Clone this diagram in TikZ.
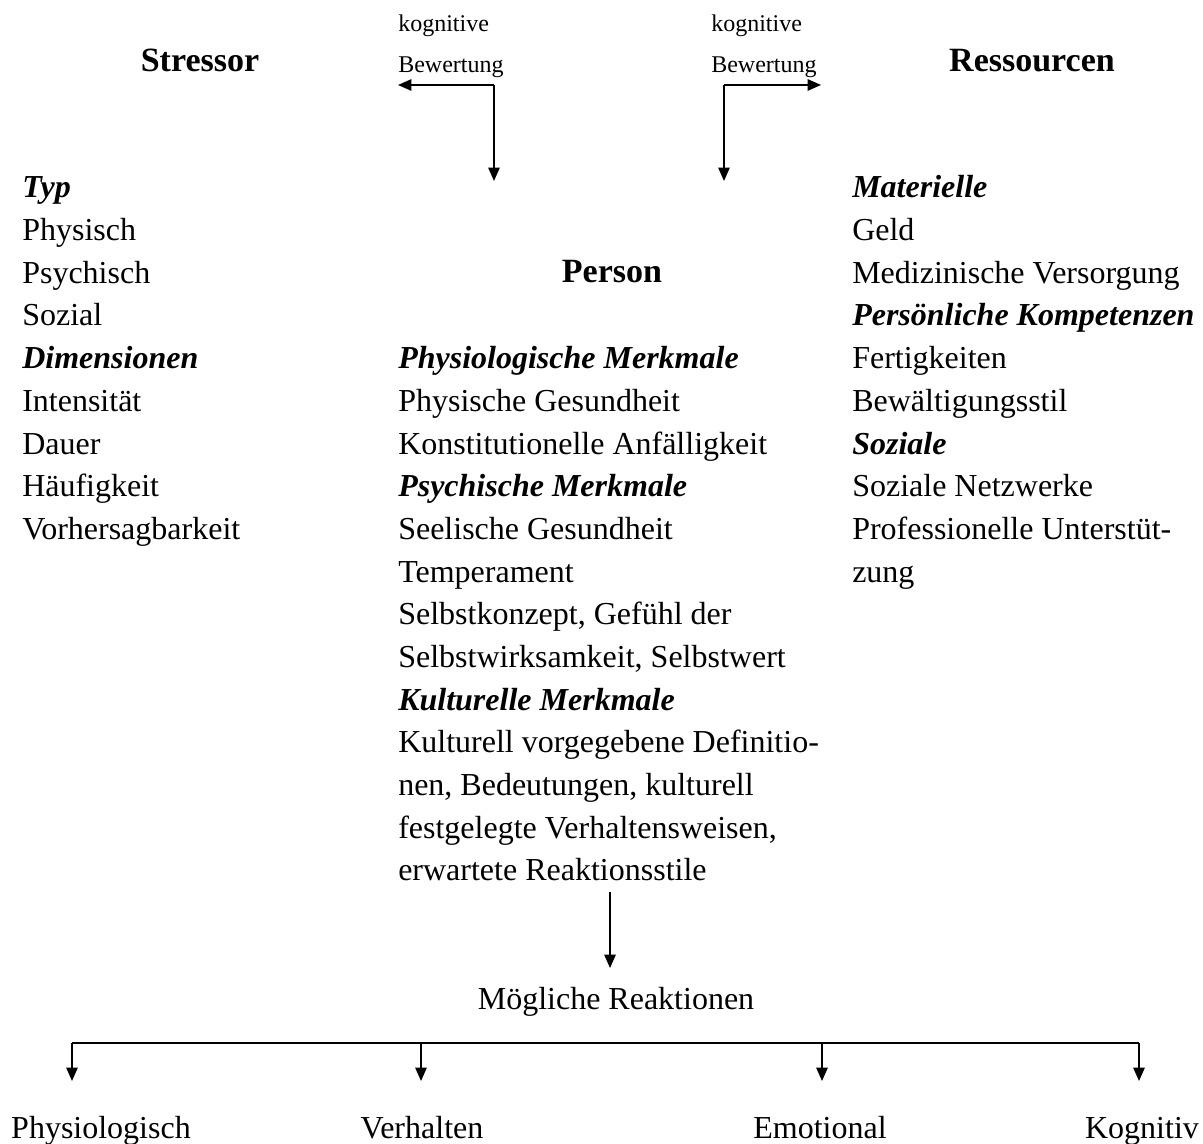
\documentclass[tikz,border=0pt]{standalone}
\usepackage{fontspec}
\setmainfont{Liberation Serif}
\usetikzlibrary{arrows.meta}
\begin{document}
\begin{tikzpicture}[x=0.75pt,y=-0.75pt,
  txt/.style={inner sep=0pt, anchor=base west, font=\fontsize{24}{29}\selectfont},
  head/.style={inner sep=0pt, anchor=base, font=\fontsize{25.5}{30}\selectfont\bfseries},
  small/.style={inner sep=0pt, anchor=base west, font=\fontsize{18}{22}\selectfont},
  ctxt/.style={inner sep=0pt, anchor=base, font=\fontsize{24}{29}\selectfont},
  arr/.style={line width=1.2pt, -{Triangle[length=10pt,width=8.5pt]}},
  bar/.style={line width=2.2pt}]
\useasboundingbox (0,0) rectangle (1203,1144);
\def\lh{42.667}
% headings
\node[head] (stressor) at (200,72) {Stressor};
\node[head] (ressourcen) at (1032,72) {Ressourcen};
\node[head] (person) at (612,283) {Person};
% cognitive appraisal labels
\node[small] (kog1) at (398,32) {kognitive};
\node[small] (bew1) at (398,73) {Bewertung};
\node[small] (kog2) at (711,32) {kognitive};
\node[small] (bew2) at (711,73) {Bewertung};
% left column
\foreach \t [count=\i from 0] in {{\textbf{\textit{Typ}}},Physisch,Psychisch,Sozial,{\textbf{\textit{Dimensionen}}},Intensität,Dauer,Häufigkeit,Vorhersagbarkeit}
  \node[txt] (s\i) at (22,198+\i*\lh) {\t};
% middle column
\foreach \t [count=\i from 4] in {{\textbf{\textit{Physiologische Merkmale}}},Physische Gesundheit,Konstitutionelle Anfälligkeit,{\textbf{\textit{Psychische Merkmale}}},Seelische Gesundheit,Temperament,{Selbstkonzept, Gefühl der},{Selbstwirksamkeit, Selbstwert},{\textbf{\textit{Kulturelle Merkmale}}},Kulturell vorgegebene Definitio-,{nen, Bedeutungen, kulturell},{festgelegte Verhaltensweisen,},erwartete Reaktionsstile}
  \node[txt] (p\i) at (398,198+\i*\lh) {\t};
% right column
\foreach \t [count=\i from 0] in {{\textbf{\textit{Materielle}}},Geld,Medizinische Versorgung,{\textbf{\textit{Persönliche Kompetenzen}}},Fertigkeiten,Bewältigungsstil,{\textbf{\textit{Soziale}}},Soziale Netzwerke,Professionelle Unterstüt-,zung}
  \node[txt] (r\i) at (852,198+\i*\lh) {\t};
% top arrows
\coordinate (c1) at (494,85);
\coordinate (t1l) at (398,85);
\coordinate (t1d) at (494,181);
\coordinate (c2) at (724,85);
\coordinate (t2r) at (821,85);
\coordinate (t2d) at (724,181);
\draw[arr] (c1) -- (t1l);
\draw[arr] (c1) -- (t1d);
\draw[arr] (c2) -- (t2r);
\draw[arr] (c2) -- (t2d);
% person to reactions
\coordinate (pa) at (610,892);
\coordinate (pb) at (610,968);
\draw[arr] (pa) -- (pb);
\node[ctxt] (moeg) at (616,1009) {Mögliche Reaktionen};
% bottom bar
\coordinate (b1) at (72,1043);
\coordinate (b2) at (421,1043);
\coordinate (b3) at (822,1043);
\coordinate (b4) at (1139,1043);
\coordinate (e1) at (72,1081);
\coordinate (e2) at (421,1081);
\coordinate (e3) at (822,1081);
\coordinate (e4) at (1139,1081);
\draw[bar] (b1) -- (b4);
\node[ctxt] (phys) at (101,1138) {Physiologisch};
\node[ctxt] (verh) at (422,1138) {Verhalten};
\node[ctxt] (emo) at (820,1138) {Emotional};
\node[ctxt] (kog) at (1142,1138) {Kognitiv};
\foreach \i in {1,2,3,4}
  \draw[arr] (b\i) -- (e\i);
\end{tikzpicture}
\end{document}
